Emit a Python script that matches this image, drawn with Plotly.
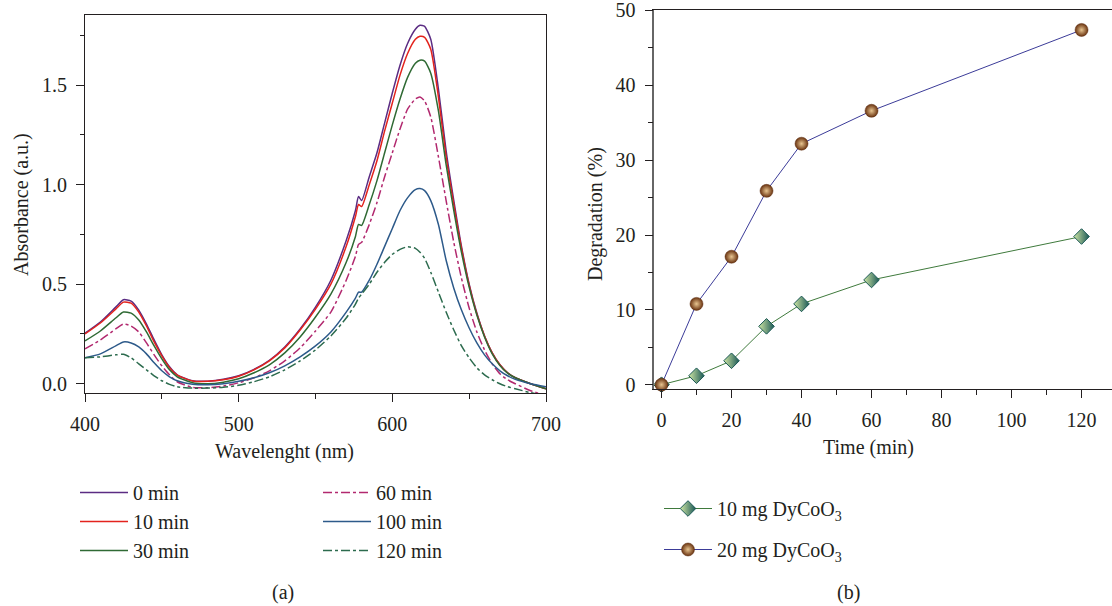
import plotly.graph_objects as go

# ---- panel (a): UV-vis spectra ----
wavelength = [400, 410, 420, 425, 430, 435, 440, 445, 450, 455, 460, 470, 480, 490, 500,
              510, 520, 530, 540, 550, 560, 570, 576, 578, 580, 585, 590, 595, 600, 605,
              610, 615, 618, 621, 625, 630, 635, 640, 645, 650, 655, 660, 665, 670, 675,
              680, 690, 700]

abs_0 = [0.254, 0.31, 0.385, 0.422, 0.415, 0.37, 0.30, 0.22, 0.145, 0.085, 0.045, 0.015, 0.013, 0.022, 0.04,
         0.072, 0.118, 0.185, 0.275, 0.385, 0.52, 0.72, 0.87, 0.94, 0.92, 1.04, 1.16, 1.31, 1.46, 1.60,
         1.71, 1.78, 1.80, 1.795, 1.73, 1.48, 1.17, 0.92, 0.69, 0.50, 0.355, 0.24, 0.155, 0.095, 0.055,
         0.03, 0.0, -0.025]
abs_10 = [0.25, 0.305, 0.375, 0.41, 0.405, 0.36, 0.29, 0.21, 0.14, 0.08, 0.043, 0.014, 0.012, 0.02, 0.038,
          0.07, 0.115, 0.18, 0.27, 0.375, 0.50, 0.69, 0.84, 0.90, 0.89, 1.00, 1.12, 1.27, 1.41, 1.55,
          1.66, 1.73, 1.745, 1.74, 1.68, 1.44, 1.14, 0.90, 0.68, 0.495, 0.35, 0.24, 0.155, 0.095, 0.055,
          0.03, 0.0, -0.025]
abs_30 = [0.215, 0.265, 0.33, 0.36, 0.355, 0.32, 0.26, 0.19, 0.125, 0.07, 0.035, 0.005, 0.0, 0.008, 0.025,
          0.055, 0.095, 0.155, 0.235, 0.335, 0.45, 0.61, 0.74, 0.80, 0.795, 0.90, 1.02, 1.16, 1.30, 1.43,
          1.54, 1.61, 1.625, 1.62, 1.56, 1.37, 1.10, 0.87, 0.66, 0.485, 0.345, 0.235, 0.15, 0.092, 0.053,
          0.03, 0.0, -0.025]
abs_60 = [0.175, 0.22, 0.275, 0.30, 0.29, 0.26, 0.205, 0.145, 0.09, 0.045, 0.01, -0.018, -0.02, -0.012, 0.005,
          0.03, 0.065, 0.115, 0.18, 0.265, 0.36, 0.52, 0.64, 0.70, 0.71, 0.80, 0.91, 1.04, 1.16, 1.28,
          1.38, 1.43, 1.44, 1.42, 1.34, 1.14, 0.92, 0.71, 0.53, 0.38, 0.26, 0.17, 0.10, 0.05, 0.02,
          0.0, -0.035, -0.06]
abs_100 = [0.13, 0.15, 0.19, 0.21, 0.205, 0.185, 0.15, 0.105, 0.065, 0.035, 0.015, -0.002, -0.005, 0.0, 0.012,
           0.03, 0.055, 0.09, 0.135, 0.19, 0.26, 0.36, 0.43, 0.46, 0.46, 0.52, 0.60, 0.69, 0.78, 0.87,
           0.935, 0.975, 0.98, 0.97, 0.92, 0.80, 0.62, 0.48, 0.37, 0.28, 0.205, 0.145, 0.10, 0.065, 0.04,
           0.022, 0.0, -0.015]
abs_120 = [0.13, 0.135, 0.145, 0.148, 0.13, 0.10, 0.07, 0.04, 0.015, -0.003, -0.015, -0.022, -0.022, -0.018, -0.008,
           0.01, 0.035, 0.07, 0.115, 0.17, 0.24, 0.33, 0.40, 0.43, 0.45, 0.50, 0.56, 0.61, 0.65, 0.675,
           0.688, 0.68, 0.66, 0.63, 0.56, 0.46, 0.36, 0.27, 0.19, 0.13, 0.08, 0.045, 0.02, 0.0, -0.015,
           -0.025, -0.045, -0.06]

# ---- panel (b): degradation ----
time_min = [0, 10, 20, 30, 40, 60, 120]
deg_10mg = [0, 1.2, 3.2, 7.8, 10.8, 14.0, 19.8]
deg_20mg = [0, 10.8, 17.1, 25.9, 32.2, 36.6, 47.4]

W, H = 1112, 606
FONT = "Liberation Serif"
FS = 20
TXT = "#231f20"

fig = go.Figure()

spectra = [
    ("0 min", abs_0, "#5b2c83", "solid", "legend"),
    ("10 min", abs_10, "#e3231d", "solid", "legend"),
    ("30 min", abs_30, "#2f6a34", "solid", "legend"),
    ("60 min", abs_60, "#b2296f", "dashdot", "legend2"),
    ("100 min", abs_100, "#2d5a8a", "solid", "legend2"),
    ("120 min", abs_120, "#2c6b4e", "dashdot", "legend2"),
]
for name, vals, color, dash, leg in spectra:
    fig.add_trace(go.Scatter(
        x=wavelength, y=vals, name=name, mode="lines",
        line=dict(color=color, width=1.5, dash=dash, shape="spline", smoothing=0.6),
        legend=leg, legendgroup=name, xaxis="x", yaxis="y",
    ))

fig.add_trace(go.Scatter(
    x=time_min, y=deg_10mg, name="10 mg DyCoO<sub>3</sub>", mode="lines+markers",
    line=dict(color="#3f7a3c", width=1),
    marker=dict(symbol="diamond", size=12, color="#cfe6a4",
                gradient=dict(type="horizontal", color="#1a5856"),
                line=dict(color="#1a5856", width=1)),
    cliponaxis=False, legend="legend3", legendgroup="a", xaxis="x2", yaxis="y2",
))
fig.add_trace(go.Scatter(
    x=time_min, y=deg_20mg, name="20 mg DyCoO<sub>3</sub>", mode="lines+markers",
    line=dict(color="#3b3b98", width=1),
    marker=dict(symbol="circle", size=13, color="#6a3310",
                gradient=dict(type="radial", color="#e8c590"),
                line=dict(color="#5a2a0c", width=0.5)),
    cliponaxis=False, legend="legend3", legendgroup="b", xaxis="x2", yaxis="y2",
))

tickfont = dict(family=FONT, size=FS, color=TXT)
axis_common = dict(
    showgrid=False, zeroline=False, showline=True, linecolor=TXT, linewidth=1,
    ticks="outside", ticklen=8, tickwidth=1, tickcolor=TXT, tickfont=tickfont,
    ticklabelstandoff=5, ticklabeloverflow="allow",
)

legend_common = dict(
    bgcolor="rgba(0,0,0,0)", font=dict(family=FONT, size=FS, color=TXT),
    traceorder="grouped", xanchor="left", yanchor="top", itemwidth=48,
)

fig.update_layout(
    width=W, height=H,
    margin=dict(l=0, r=0, t=0, b=0, autoexpand=False),
    paper_bgcolor="white", plot_bgcolor="white",
    xaxis=dict(domain=[85 / W, 546 / W], range=[400, 700], anchor="y",
               tick0=400, dtick=100, mirror=True,
               minor=dict(dtick=50, ticks="outside", ticklen=4.5, tickcolor=TXT),
               **axis_common),
    yaxis=dict(domain=[1 - 393.3 / H, 1 - 15 / H], range=[-0.048, 1.852], anchor="x",
               tick0=0, dtick=0.5, tickformat=".1f", mirror=True,
               minor=dict(dtick=0.25, ticks="outside", ticklen=4.5, tickcolor=TXT),
               **axis_common),
    xaxis2=dict(domain=[654.3 / W, 1], range=[-2.06, 128.7], anchor="y2",
                tick0=0, dtick=20, mirror=True,
                minor=dict(dtick=10, ticks="outside", ticklen=4.5, tickcolor=TXT),
                **axis_common),
    yaxis2=dict(domain=[1 - 389 / H, 1 - 10.4 / H], range=[-0.57, 50.01], anchor="x2",
                tick0=0, dtick=10,
                minor=dict(dtick=5, ticks="outside", ticklen=4.5, tickcolor=TXT),
                **{**axis_common, "linecolor": "#666666", "linewidth": 1.5}),
    legend=dict(x=75 / W, y=1 - 473 / H, tracegroupgap=0, **legend_common),
    legend2=dict(x=318 / W, y=1 - 473 / H, tracegroupgap=0, **legend_common),
    legend3=dict(x=659 / W, y=1 - 489 / H, tracegroupgap=12, **legend_common),
    showlegend=True,
)

ann_font = dict(family=FONT, size=FS, color=TXT)
annotations = [
    dict(text="Wavelenght (nm)", x=284 / W, y=1 - 451 / H),
    dict(text="Absorbance (a.u.)", x=22 / W, y=1 - 205 / H, textangle=-90),
    dict(text="Time (min)", x=868 / W, y=1 - 447 / H),
    dict(text="Degradation (%)", x=596 / W, y=1 - 214 / H, textangle=-90),
    dict(text="(a)", x=283 / W, y=1 - 592 / H),
    dict(text="(b)", x=848 / W, y=1 - 592 / H),
]
for a in annotations:
    fig.add_annotation(xref="paper", yref="paper", showarrow=False,
                       xanchor="center", yanchor="middle", font=ann_font, **a)

# the page would otherwise have the browser's default 8px body margin
fig.write_html("out.html", config={"displayModeBar": False},
               post_script="document.body.style.margin='0';")
